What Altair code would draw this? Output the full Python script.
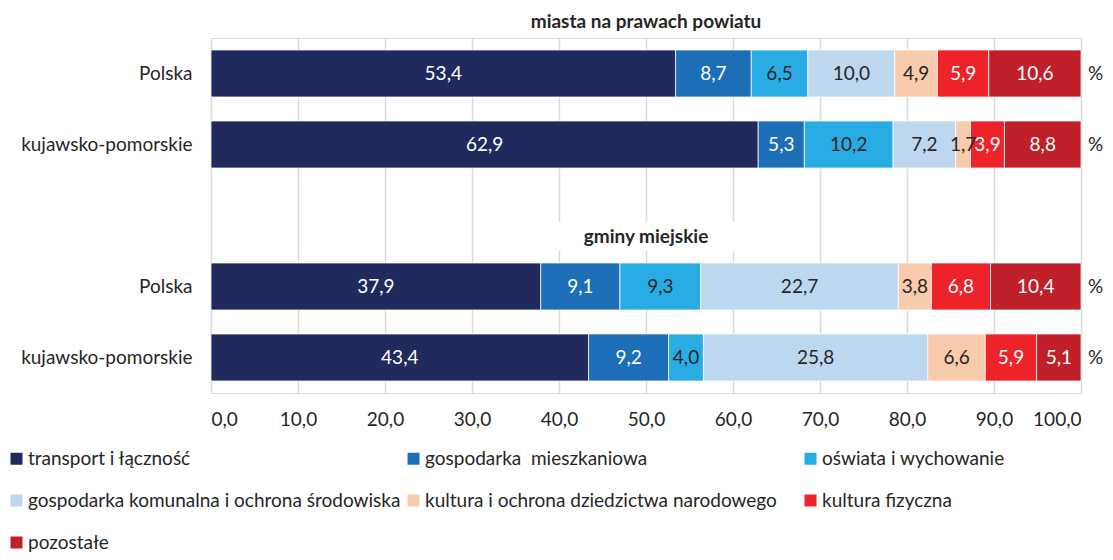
import altair as alt
import pandas as pd

categories = [
    "transport i łączność",
    "gospodarka\u00a0 mieszkaniowa",
    "oświata i wychowanie",
    "gospodarka komunalna i ochrona środowiska",
    "kultura i ochrona dziedzictwa narodowego",
    "kultura fizyczna",
    "pozostałe",
]
colors = ["#212A5C", "#1C6EB7", "#29ACE3", "#BDD7EE", "#F8CBAD", "#EE2229", "#C0202A"]
label_colors = ["#FFFFFF", "#FFFFFF", "#262626", "#262626", "#262626", "#FFFFFF", "#FFFFFF"]

rows = ["m|Polska", "m|kujawsko-pomorskie", "gap", "g|Polska", "g|kujawsko-pomorskie"]
bar_rows = ["m|Polska", "m|kujawsko-pomorskie", "g|Polska", "g|kujawsko-pomorskie"]

miasta_polska = [53.4, 8.7, 6.5, 10.0, 4.9, 5.9, 10.6]
miasta_kujawsko = [62.9, 5.3, 10.2, 7.2, 1.7, 3.9, 8.8]
gminy_polska = [37.9, 9.1, 9.3, 22.7, 3.8, 6.8, 10.4]
gminy_kujawsko = [43.4, 9.2, 4.0, 25.8, 6.6, 5.9, 5.1]
series = [miasta_polska, miasta_kujawsko, gminy_polska, gminy_kujawsko]

title_top = "miasta na prawach powiatu"
title_mid = "gminy miejskie"
x_ticks = [0, 10, 20, 30, 40, 50, 60, 70, 80, 90, 100]

FONT = "Lato"
FS = 19

records = []
for r, vals in zip(bar_rows, series):
    for i, (c, v) in enumerate(zip(categories, vals)):
        records.append({
            "row": r, "category": c, "order": i, "value": v,
            "label": f"{v:.1f}".replace(".", ","), "lc": label_colors[i],
        })
df = pd.DataFrame(records)

y_enc = alt.Y(
    "row:N",
    scale=alt.Scale(domain=rows, paddingInner=0.338, paddingOuter=0.169),
    axis=alt.Axis(
        title=None, domain=False, ticks=False, labelPadding=19,
        labelFontSize=FS, labelColor="#262626", labelFont=FONT,
        labelExpr="indexof(datum.value,'|')>0 ? split(datum.value,'|')[1] : ''",
        labelLimit=400,
    ),
)

bars = alt.Chart(df).mark_bar(stroke="white", strokeWidth=0.75).encode(
    x=alt.X(
        "value:Q", stack="zero",
        scale=alt.Scale(domain=[0, 100], nice=False),
        axis=alt.Axis(
            title=None, values=x_ticks, domain=False, ticks=False,
            grid=True, gridColor="#D9D9D9", gridWidth=1.5,
            labelPadding=17, labelFontSize=FS, labelColor="#262626", labelFont=FONT,
            labelExpr="replace(format(datum.value,'.1f'),'.',',')",
        ),
    ),
    y=y_enc,
    color=alt.Color(
        "category:N",
        scale=alt.Scale(domain=categories, range=colors),
        legend=alt.Legend(
            title=None, orient="none", legendX=-204, legendY=411, padding=0,
            direction="horizontal", columns=3, gridAlign="all",
            symbolType="square", symbolSize=144,
            symbolStrokeWidth=0, labelFontSize=FS, labelFont=FONT,
            labelColor="#262626", labelOffset=2, columnPadding=3,
            rowPadding=22, labelLimit=600,
        ),
    ),
    order=alt.Order("order:Q"),
)

labels = alt.Chart(df).transform_stack(
    stack="value", groupby=["row"], as_=["x0", "x1"], sort=[alt.SortField("order")]
).transform_calculate(mid="(datum.x0 + datum.x1) / 2").mark_text(
    fontSize=FS, font=FONT
).encode(
    x="mid:Q",
    y=alt.Y("row:N"),
    text="label:N",
    color=alt.Color("lc:N", scale=None),
)

pct_df = pd.DataFrame({"row": bar_rows, "x": [100] * 4, "t": ["%"] * 4})
pct = alt.Chart(pct_df).mark_text(align="left", dx=7, fontSize=FS, font=FONT, color="#262626").encode(
    x="x:Q", y=alt.Y("row:N"), text="t:N"
)

mid_df = pd.DataFrame({"row": ["gap"], "x": [50], "t": [title_mid]})
mid_box = alt.Chart(mid_df).mark_rect(color="white").encode(
    x=alt.value(345), x2=alt.value(525), y=alt.value(184), y2=alt.value(213)
)
mid_title = alt.Chart(mid_df).mark_text(
    dy=21, fontSize=FS, fontWeight="bold", font=FONT, color="#262626"
).encode(x="x:Q", y=alt.Y("row:N"), text="t:N")

chart = alt.layer(bars, mid_box, labels, pct, mid_title).properties(
    width=870, height=355,
    title=alt.TitleParams(title_top, fontSize=FS, fontWeight="bold", font=FONT,
                          color="#262626", anchor="middle", offset=6),
    autosize=alt.AutoSizeParams(type="none"),
    padding={"left": 203, "top": 30, "right": 24, "bottom": 159},
).configure_view(stroke=None).configure(font=FONT)

chart.save("out.html", embed_options={"renderer": "svg", "actions": False})
